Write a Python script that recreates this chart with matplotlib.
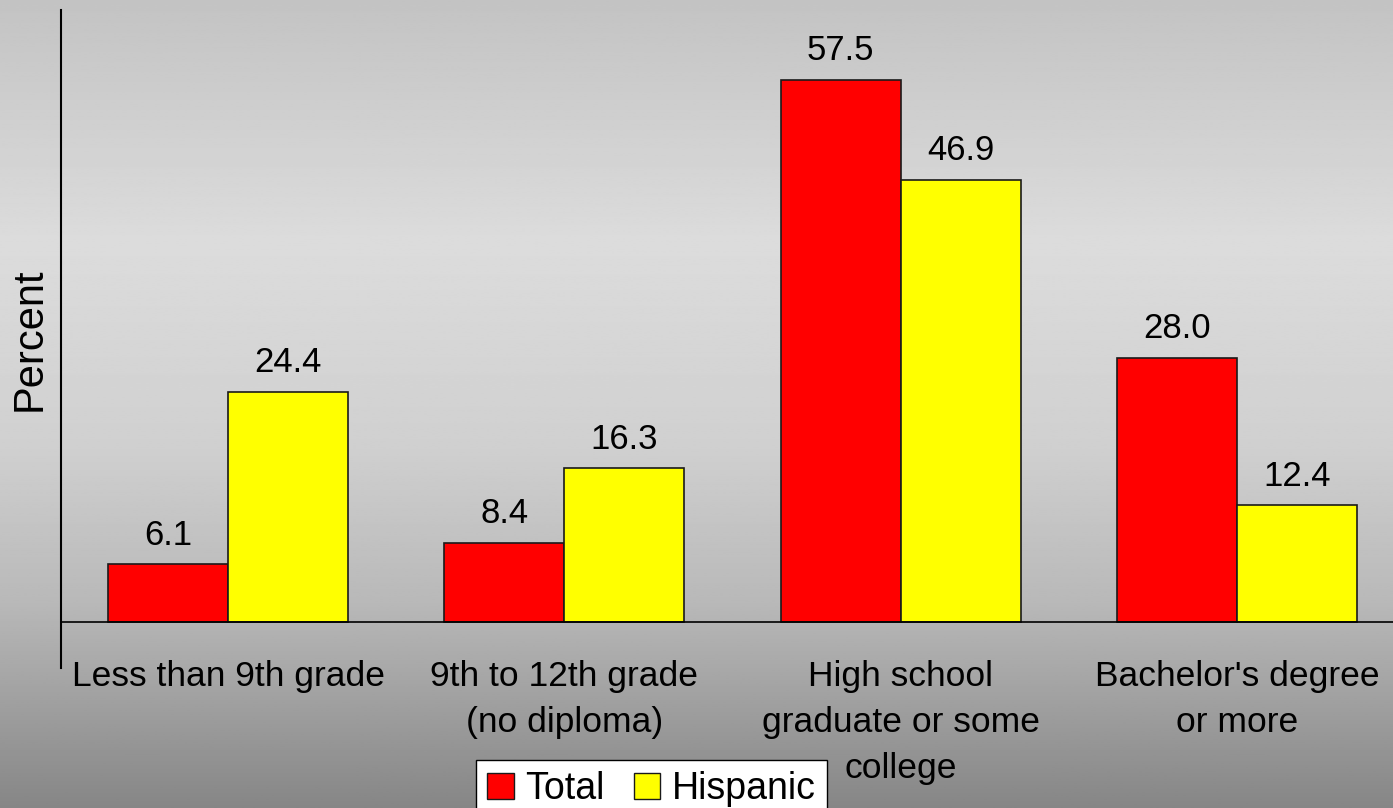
import numpy as np
import matplotlib
matplotlib.use("Agg")
from matplotlib import pyplot as plt
from matplotlib.patches import Patch

plt.rcParams['font.family'] = ['Liberation Sans', 'DejaVu Sans']

# Educational attainment, percent
categories = ["Less than 9th grade", "9th to 12th grade\n(no diploma)",
              "High school\ngraduate or some\ncollege", "Bachelor's degree\nor more"]
total = [6.1, 8.4, 57.5, 28.0]
hispanic = [24.4, 16.3, 46.9, 12.4]
series_names = ["Total", "Hispanic"]

W, H = 1393, 808
fig = plt.figure(figsize=(W / 100, H / 100), dpi=100)

# Grey vertical gradient behind everything
bg = fig.add_axes([0, 0, 1, 1], zorder=-10)
rows = np.linspace(0, 1, 400)
stops = [0.0, 0.3, 0.55, 0.75, 1.0]
levels = [195, 220, 208, 184, 134]
shade = np.interp(rows, stops, levels) / 255.0
grad = np.repeat(shade[:, None], 2, axis=1)
bg.imshow(grad, aspect='auto', cmap='gray', vmin=0, vmax=1,
          extent=[0, 1, 0, 1], origin='upper')
bg.set_axis_off()

ax = fig.add_axes([61 / W, (H - 668) / H, (W - 61) / W, (668 - 10) / H])
ax.patch.set_visible(False)

x = np.arange(len(categories))
bw = 0.357
b1 = ax.bar(x - bw / 2, total, bw, color='#ff0000', edgecolor='#1a1a1a', linewidth=1.2)
b2 = ax.bar(x + bw / 2, hispanic, bw, color='#ffff00', edgecolor='#1a1a1a', linewidth=1.2)

for bars, vals in ((b1, total), (b2, hispanic)):
    for rect, v in zip(bars, vals):
        ax.annotate(f"{v:.1f}", (rect.get_x() + rect.get_width() / 2, v),
                    xytext=(0, 9), textcoords='offset points',
                    ha='center', va='bottom', fontsize=25)

ax.set_xlim(-0.4966, 3.464)
ax.set_ylim(-4.88, 64.9)
ax.axhline(0, color='black', linewidth=1.2)

for s in ('top', 'right', 'bottom'):
    ax.spines[s].set_visible(False)
ax.spines['left'].set_linewidth(1.5)
ax.set_yticks([])
ax.set_xticks([])

# category names, one text per line so each line keeps a tight box
for xi, lab in zip(x, categories):
    for i, line in enumerate(lab.split("\n")):
        ax.annotate(line, (xi, -4.0), xytext=(0, -33.1 * i),
                    textcoords='offset points', ha='center', va='top',
                    fontsize=25.5, annotation_clip=False)

ax.set_ylabel("Percent", fontsize=30, labelpad=8)

handles = [Patch(facecolor='#ff0000', edgecolor='#1a1a1a'),
           Patch(facecolor='#ffff00', edgecolor='#1a1a1a')]
leg = fig.legend(handles, series_names, loc='upper left',
                 bbox_to_anchor=(476 / W, 1 - 760 / H), ncol=2,
                 fontsize=27, frameon=True, fancybox=False,
                 handlelength=0.7, handleheight=0.7, handletextpad=0.3,
                 columnspacing=0.8, borderpad=0.3, borderaxespad=0)
leg.get_frame().set_edgecolor('black')
leg.get_frame().set_facecolor('white')
leg.get_frame().set_alpha(1)

fig.savefig("out.png", dpi=100)
